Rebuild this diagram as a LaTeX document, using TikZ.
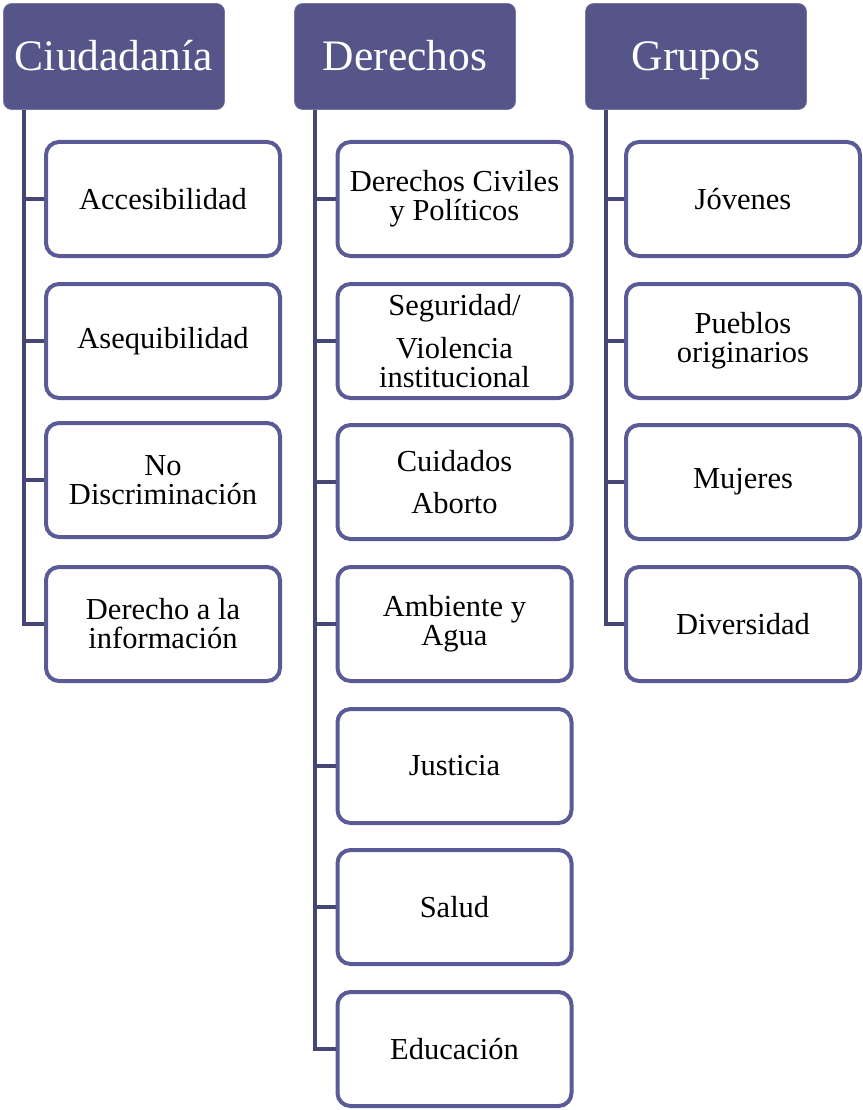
\documentclass[tikz,border=0pt]{standalone}
\usepackage{fontspec}
\setmainfont{Liberation Serif}
\begin{document}
\begin{tikzpicture}[x=1pt,y=-1pt,
  hdr/.style={fill=hdrc, draw=hdrc!80!white, line width=0.6pt, rounded corners=8pt, minimum width=221pt, minimum height=106pt, inner sep=0pt, text=white, text height=29pt, text depth=0pt, font=\fontsize{43.5}{48}\selectfont},
  child/.style={draw=bordc, line width=4pt, fill=white, rounded corners=13pt, minimum width=234pt, minimum height=114pt, inner sep=0pt, align=center, font=\fontsize{30.5}{29}\selectfont},
  conn/.style={draw=connc, line width=4pt}]
\definecolor{hdrc}{RGB}{85,85,138}
\definecolor{bordc}{RGB}{90,90,150}
\definecolor{connc}{RGB}{70,70,118}
\useasboundingbox (0,0) rectangle (862,1110);

\node[hdr] (h1) at (114,56.5) {Ciudadanía};
\node[hdr] (h2) at (405,56.5) {Derechos};
\node[hdr] (h3) at (696,56.5) {Grupos};

\coordinate (v1) at (23.5,110);
\coordinate (v2) at (314.5,110);
\coordinate (v3) at (605.5,110);

\node[child] (a1) at (163,199) {Accesibilidad};
\node[child] (a2) at (163,341) {Asequibilidad};
\node[child] (a3) at (163,480) {No\\Discriminación};
\node[child] (a4) at (163,624) {Derecho a la\\información};

\node[child] (b1) at (454.5,199) {Derechos Civiles\\y Políticos};
\node[child] (b2) at (454.5,341) {Seguridad/\\[14pt]Violencia\\institucional};
\node[child] (b3) at (454.5,482) {Cuidados\\[13pt]Aborto};
\node[child] (b4) at (454.5,624) {Ambiente y\\Agua};
\node[child] (b5) at (454.5,766) {Justicia};
\node[child] (b6) at (454.5,907) {Salud};
\node[child] (b7) at (454.5,1049) {Educación};

\node[child] (c1) at (743,199) {Jóvenes};
\node[child] (c2) at (743,341) {Pueblos\\originarios};
\node[child] (c3) at (743,482) {Mujeres};
\node[child] (c4) at (743,624) {Diversidad};

\draw[conn] (v1) |- (a4.west);
\foreach \n in {a1,a2,a3} \draw[conn] (v1 |- \n.west) -- (\n.west);
\draw[conn] (v2) |- (b7.west);
\foreach \n in {b1,b2,b3,b4,b5,b6} \draw[conn] (v2 |- \n.west) -- (\n.west);
\draw[conn] (v3) |- (c4.west);
\foreach \n in {c1,c2,c3} \draw[conn] (v3 |- \n.west) -- (\n.west);
\end{tikzpicture}
\end{document}
